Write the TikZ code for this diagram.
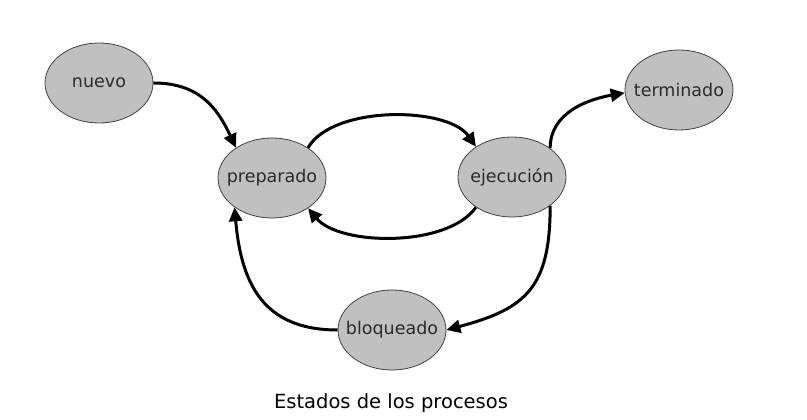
\documentclass[tikz,border=0pt]{standalone}
\usepackage{fontspec}
\setmainfont{DejaVu Sans}
\usetikzlibrary{shapes.geometric,arrows.meta}
\definecolor{stfill}{HTML}{C0C0C0}
\definecolor{stline}{HTML}{404040}
\definecolor{sttext}{HTML}{2A2A2A}
\tikzset{
  estado/.style={ellipse, draw=stline, line width=0.8pt, fill=stfill,
    minimum width=108pt, minimum height=80pt, inner xsep=-40pt, inner ysep=-20pt,
    text=sttext, font=\fontsize{17.5pt}{20pt}\selectfont},
  flecha/.style={line width=3pt, -{Triangle[length=14pt,width=13pt]}},
  caption/.style={font=\fontsize{19.5pt}{22pt}\selectfont, text=black}
}
\begin{document}
\begin{tikzpicture}[x=1pt,y=1pt]
\useasboundingbox (0,0) rectangle (807,420);
\node[estado] (nuevo) at (99,337) {nuevo};
\node[estado] (prep) at (272,242) {preparado};
\node[estado] (ejec) at (512,243) {ejecución};
\node[estado] (term) at (679,330) {terminado};
\node[estado] (bloq) at (392,90) {bloqueado};
\node[caption] (cap) at (391,17) {Estados de los procesos};
\draw[flecha] (nuevo.east) to[out=0,in=115,looseness=1.1] (prep.140);
\draw[flecha] (prep.40) to[out=60,in=125,looseness=0.75] (ejec.140);
\draw[flecha] (ejec.220) to[out=235,in=310,looseness=0.75] (prep.320);
\draw[flecha] (ejec.37) to[out=90,in=190] (term.183);
\draw[flecha] (ejec.323) to[out=-90,in=15,looseness=1.3] (bloq.east);
\draw[flecha] (bloq.west) to[out=180,in=-85,looseness=1.2] (prep.218);
\end{tikzpicture}
\end{document}
